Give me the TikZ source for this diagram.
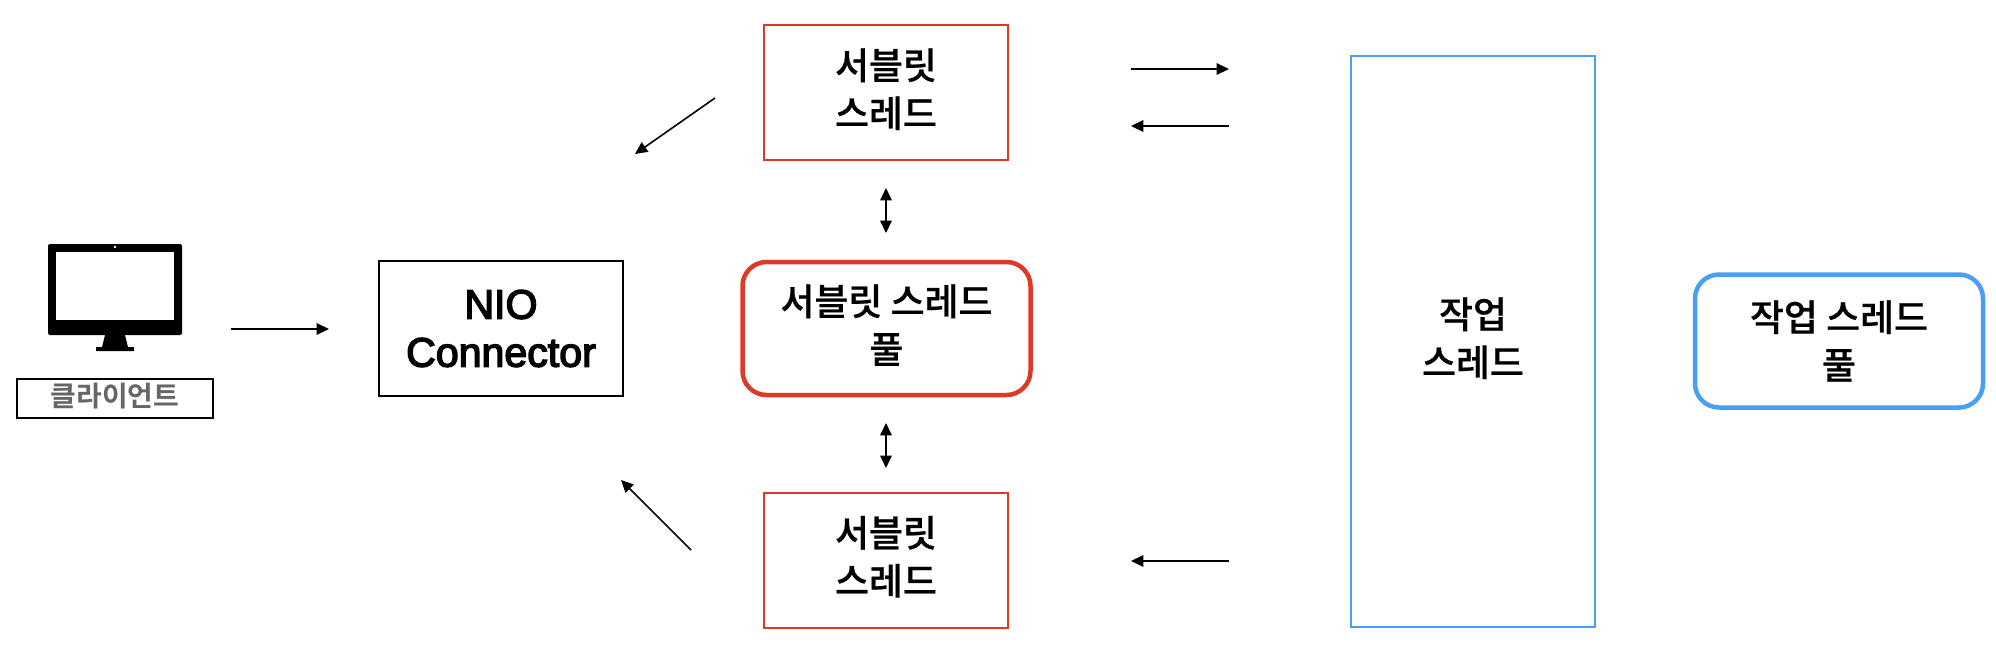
\documentclass[tikz,border=0pt]{standalone}
\usepackage{fontspec}
\setmainfont[FakeBold=0.6]{Noto Sans CJK KR Medium}
\newfontfamily\latinfont[FakeBold=3.5]{Liberation Sans}
\newfontfamily\labelfont{Noto Sans CJK KR Bold}
\usetikzlibrary{arrows.meta}
\newdimen\px \px=0.02cm
\newcommand\liftline{\rule[-5.4pt]{0pt}{5.4pt}}
\newcommand\liftlabel{\rule[-4.4pt]{0pt}{4.4pt}}
\definecolor{redline}{HTML}{DD3A26}
\definecolor{blueline}{HTML}{4A9FF5}
\definecolor{labelgray}{HTML}{666666}
\tikzset{
  basebox/.style={draw,align=center,inner sep=0pt,font=\fontsize{21pt}{27.3pt}\selectfont},
  servletbox/.style={basebox,draw=redline,line width=2\px,minimum width=244\px,minimum height=135\px},
  workbox/.style={basebox,draw=blueline,line width=2\px,minimum width=244\px,minimum height=571\px},
  niobox/.style={basebox,draw=black,line width=2\px,minimum width=244\px,minimum height=135\px,font=\latinfont\fontsize{23.4pt}{27.3pt}\selectfont},
  poolbox/.style={basebox,line width=4.5\px,rounded corners=24\px},
  clientbox/.style={draw=black,line width=2\px,inner sep=0pt,minimum width=196\px,minimum height=39\px,text=labelgray,font=\labelfont\fontsize{15.9pt}{18pt}\selectfont},
  flow/.style={line width=1.6\px,-{Triangle[length=7pt,width=6.5pt]}},
  flowboth/.style={line width=1.6\px,{Triangle[length=7pt,width=6.5pt]}-{Triangle[length=7pt,width=6.5pt]}}
}
\begin{document}
\begin{tikzpicture}[x=0.02cm,y=-0.02cm]
\useasboundingbox (0,0) rectangle (1996,670);
% monitor
\fill[black,rounded corners=2\px] (48,244) rectangle (182,335);
\fill[white] (56,252) rectangle (174,320);
\fill[white] (115,247) circle [radius=1.3\px];
\fill[black] (105,335) -- (125,335) -- (128,347) -- (134,347) -- (134,351) -- (96,351) -- (96,347) -- (102,347) -- cycle;
\node[clientbox] (client) at (115,398.5) {클라이언트\liftlabel};
\node[niobox] (nio) at (501,328.5) {NIO\\Connector};
\node[servletbox] (s1) at (886,92.5) {서블릿\\스레드\liftline};
\node[servletbox] (s2) at (886,560) {서블릿\\스레드\liftline};
\node[poolbox,draw=redline,minimum width=288\px,minimum height=133\px] (sp) at (886.5,328.5) {서블릿 스레드\\풀\liftline};
\node[workbox] (w) at (1473,341.5) {작업\\스레드\liftline};
\node[poolbox,draw=blueline,minimum width=288\px,minimum height=133\px] (wp) at (1839,341) {작업 스레드\\풀};
% free ends
\coordinate (a1) at (231,329); \coordinate (a2) at (329,329);
\coordinate (b1) at (715,98); \coordinate (b2) at (635,154);
\coordinate (c1) at (691,550); \coordinate (c2) at (621,480);
\coordinate (d1) at (1131,69); \coordinate (d2) at (1229,69);
\coordinate (e1) at (1229,126); \coordinate (e2) at (1131,126);
\coordinate (f1) at (1229,561); \coordinate (f2) at (1131,561);
\coordinate (g1) at (886,188); \coordinate (g2) at (886,233);
\coordinate (h1) at (886,423); \coordinate (h2) at (886,468);
\draw[flow] (a1) -- (a2);
\draw[flow] (b1) -- (b2);
\draw[flow] (c1) -- (c2);
\draw[flow] (d1) -- (d2);
\draw[flow] (e1) -- (e2);
\draw[flow] (f1) -- (f2);
\draw[flowboth] (g1) -- (g2);
\draw[flowboth] (h1) -- (h2);
\end{tikzpicture}
\end{document}
